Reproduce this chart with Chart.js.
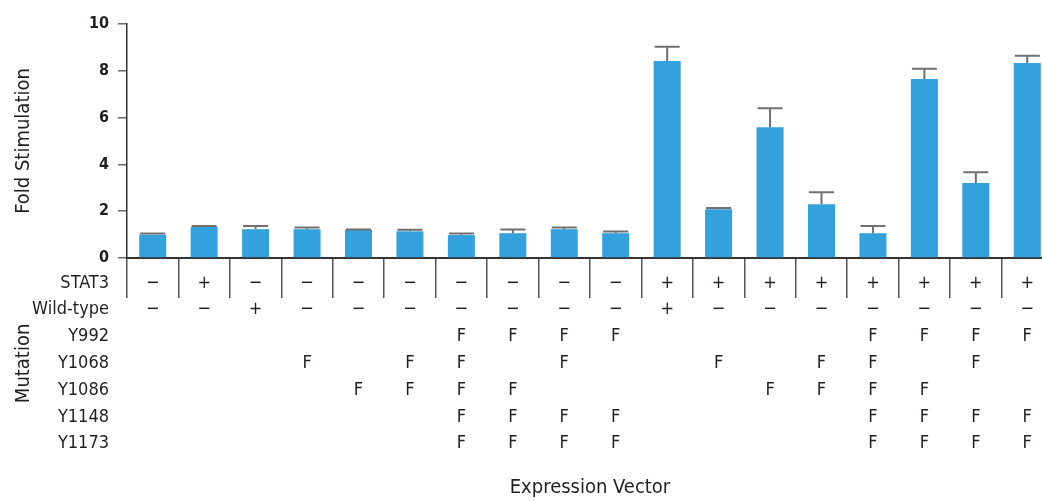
<!DOCTYPE html>
<html>
<head>
<meta charset="utf-8">
<script src="https://cdn.jsdelivr.net/npm/chart.js@4.4.1/dist/chart.umd.min.js"></script>
<style>
  html, body { margin: 0; padding: 0; background: #fff; overflow: hidden; }
  #wrap { width: 1060px; height: 501px; position: relative; }
</style>
</head>
<body>
<div id="wrap"><canvas id="chart"></canvas></div>
<script>
// Expression-vector columns (one bar per construct)
const categories = ['1','2','3','4','5','6','7','8','9','10','11','12','13','14','15','16','17','18'];

// Mean fold stimulation and upper error (SD) per construct
const foldStimulation = [1.00, 1.33, 1.23, 1.23, 1.21, 1.14, 0.98, 1.06, 1.23, 1.06, 8.42, 2.08, 5.59, 2.30, 1.06, 7.65, 3.20, 8.33];
const errorUp         = [0.05, 0.04, 0.14, 0.07, 0.01, 0.07, 0.07, 0.16, 0.07, 0.07, 0.61, 0.06, 0.81, 0.51, 0.31, 0.44, 0.46, 0.31];

// Y axis tick values
const yTicks = [0, 2, 4, 6, 8, 10];

// Construct table under the axis
const rowNames = ['STAT3', 'Wild-type', 'Y992', 'Y1068', 'Y1086', 'Y1148', 'Y1173'];
const stat3    = ['−','+','−','−','−','−','−','−','−','−','+','+','+','+','+','+','+','+'];
const wildType = ['−','−','+','−','−','−','−','−','−','−','+','−','−','−','−','−','−','−'];
const y992     = ['','','','','','','F','F','F','F','','','','','F','F','F','F'];
const y1068    = ['','','','F','','F','F','','F','','','F','','F','F','','F',''];
const y1086    = ['','','','','F','F','F','F','','','','','F','F','F','F','',''];
const y1148    = ['','','','','','','F','F','F','F','','','','','F','F','F','F'];
const y1173    = ['','','','','','','F','F','F','F','','','','','F','F','F','F'];
const tableRows = [stat3, wildType, y992, y1068, y1086, y1148, y1173];

const FAMILY = "'Liberation Sans Narrow', 'DejaVu Sans Condensed', 'Roboto Condensed', 'Liberation Sans', sans-serif";
const TEXT = '#231f20';
const BAR = '#33a1dc';
const ROW_SIZE = 18;
const TITLE_SIZE = 20;
const LINE_H = 26.8;
const SEP_LEN = 40;
const LABEL_PAD = -(SEP_LEN - 25) - LINE_H / 2;

// Row captions left of the table plus the rotated "Mutation" group caption
const rowCaptions = {
  id: 'rowCaptions',
  afterDraw(chart) {
    const { ctx, chartArea } = chart;
    const xs = chart.scales.x;
    const y0 = xs.top + SEP_LEN + LABEL_PAD + LINE_H / 2;
    ctx.save();
    ctx.fillStyle = TEXT;
    ctx.font = `500 ${ROW_SIZE}px ${FAMILY}`;
    ctx.textAlign = 'right';
    ctx.textBaseline = 'middle';
    rowNames.forEach((name, i) => ctx.fillText(name, chartArea.left - 18, y0 + i * LINE_H));
    ctx.translate(24, y0 + 3 * LINE_H);
    ctx.rotate(-Math.PI / 2);
    ctx.textAlign = 'center';
    ctx.font = `${TITLE_SIZE}px ${FAMILY}`;
    ctx.fillText('Mutation', 0, 0);
    ctx.restore();
  }
};

// Upper error bars with caps
const errorBars = {
  id: 'errorBars',
  afterDatasetsDraw(chart) {
    const { ctx } = chart;
    const ys = chart.scales.y;
    const meta = chart.getDatasetMeta(0);
    ctx.save();
    ctx.strokeStyle = '#707070';
    ctx.lineWidth = 2;
    meta.data.forEach((bar, i) => {
      const top = ys.getPixelForValue(foldStimulation[i] + errorUp[i]);
      const half = bar.width / 2 - 1;
      ctx.beginPath();
      ctx.moveTo(bar.x, bar.y);
      ctx.lineTo(bar.x, top);
      ctx.moveTo(bar.x - half, top);
      ctx.lineTo(bar.x + half, top);
      ctx.stroke();
    });
    ctx.restore();
  }
};

new Chart(document.getElementById('chart'), {
  type: 'bar',
  data: {
    labels: categories,
    datasets: [{
      data: foldStimulation,
      backgroundColor: BAR,
      borderWidth: 0,
      categoryPercentage: 1,
      barPercentage: 0.525
    }]
  },
  options: {
    responsive: true,
    maintainAspectRatio: false,
    animation: false,
    layout: { padding: { top: 24, right: 7, left: 0, bottom: 0 } },
    plugins: { legend: { display: false }, tooltip: { enabled: false } },
    scales: {
      x: {
        afterFit(scale) { scale.height = 243; },
        grid: {
          display: true, offset: true, drawOnChartArea: false, drawTicks: true,
          tickLength: SEP_LEN, color: '#555', lineWidth: 1.5
        },
        border: { display: true, color: '#333', width: 2 },
        ticks: {
          autoSkip: false, maxRotation: 0, minRotation: 0,
          padding: LABEL_PAD,
          color: TEXT,
          font: { family: FAMILY, size: ROW_SIZE, weight: '500', lineHeight: LINE_H / ROW_SIZE },
          callback: (v, i) => tableRows.map(r => r[i])
        },
        title: {
          display: true, text: 'Expression Vector', color: TEXT,
          font: { family: FAMILY, size: TITLE_SIZE, lineHeight: 1 },
          padding: { top: 0, bottom: 3 }
        }
      },
      y: {
        min: 0, max: 10,
        afterFit(scale) { scale.width = 127; },
        afterBuildTicks(scale) { scale.ticks = yTicks.map(v => ({ value: v })); },
        grid: {
          display: true, drawOnChartArea: false, drawTicks: true,
          tickLength: 9, color: '#666', lineWidth: 1.5
        },
        border: { display: true, color: '#333', width: 1.5 },
        ticks: {
          padding: 9, color: TEXT,
          font: { family: FAMILY, size: 16, weight: 'bold' }
        },
        title: {
          display: true, text: 'Fold Stimulation', color: TEXT,
          font: { family: FAMILY, size: TITLE_SIZE, lineHeight: 1.2 },
          padding: { top: 12, bottom: 0 }
        }
      }
    }
  },
  plugins: [rowCaptions, errorBars]
});
</script>
</body>
</html>
